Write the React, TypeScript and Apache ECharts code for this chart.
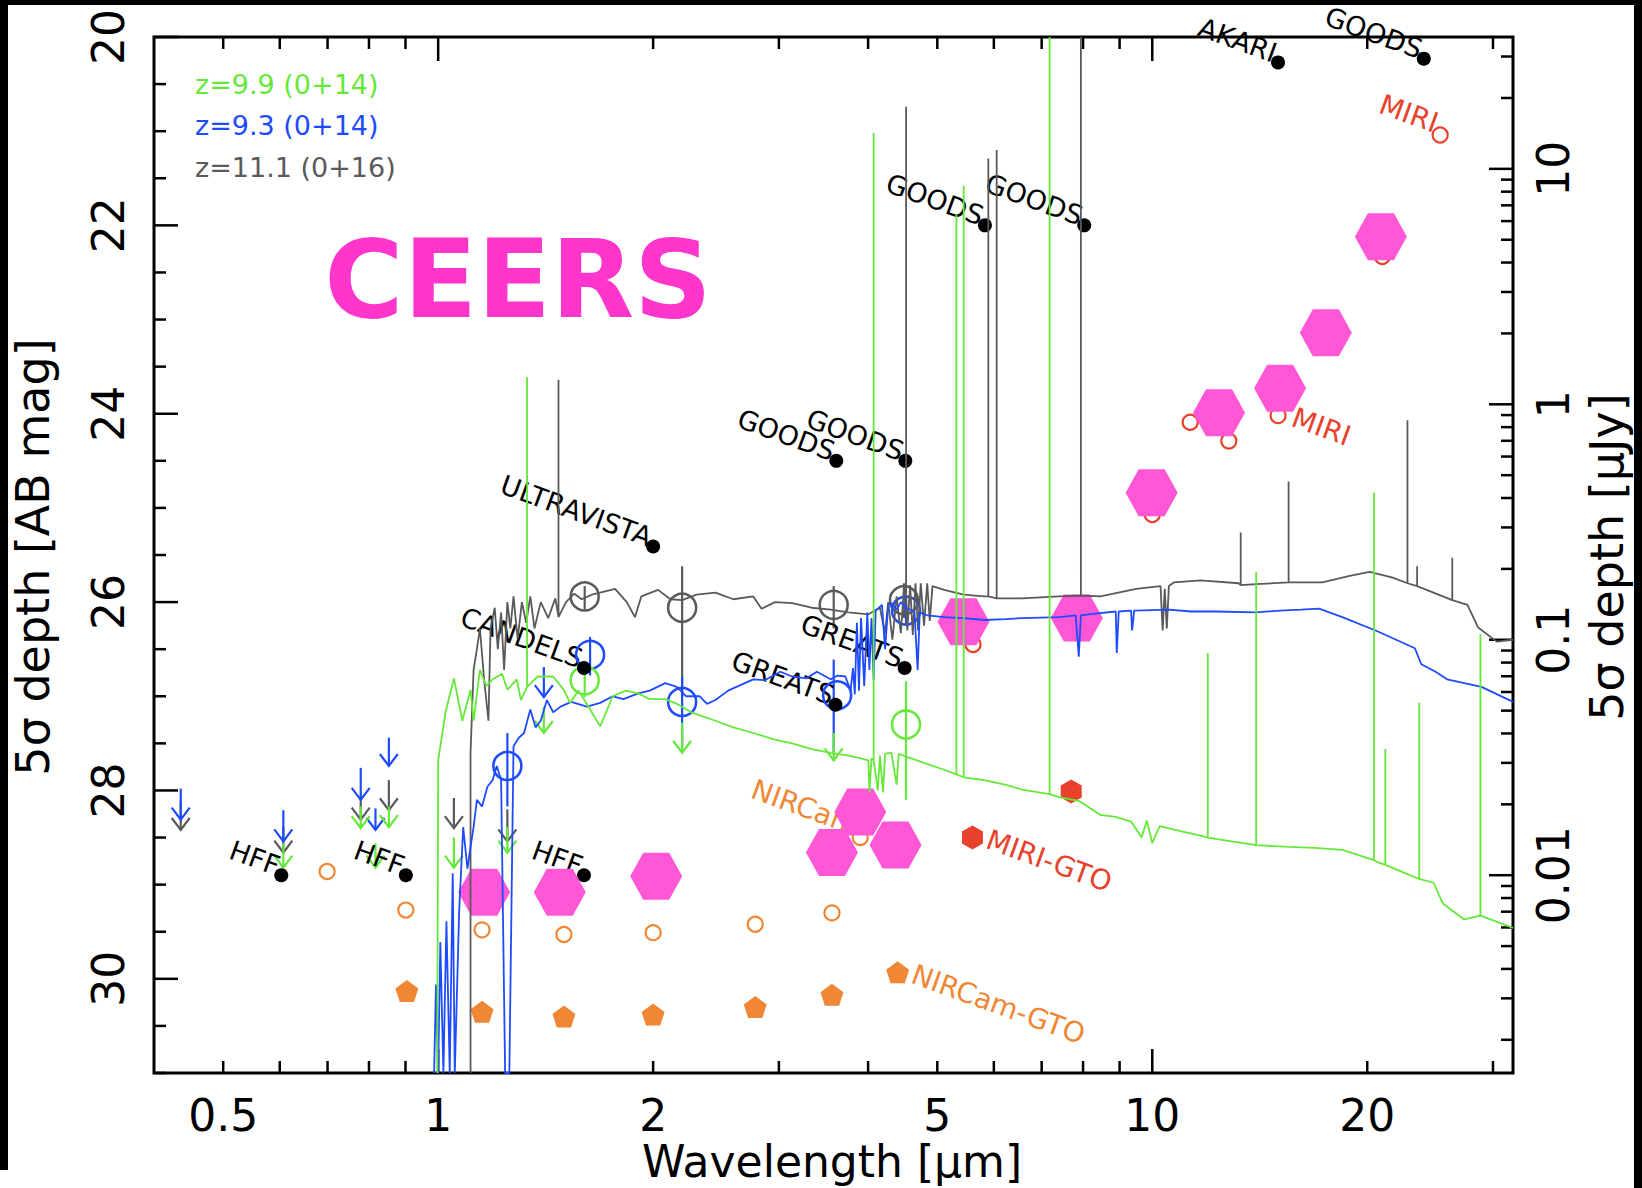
import React, { useEffect, useRef } from "react";
import * as echarts from "echarts";

const W = 1642;
const H = 1188;

const GREEN = "#66e83a";
const BLUE = "#1f4bff";
const GREY = "#5a5a5a";
const RED = "#e8412c";
const ORANGE = "#ef8734";
const PINK = "#ff57d5";
const FONT = '"DejaVu Sans", sans-serif';

// ---------------- model SEDs: [wavelength (μm), AB mag] ----------------
const sedZ111 = [
  [1.11, 31.0], [1.11, 27.6], [1.121, 26.72], [1.133, 26.5], [1.144, 26.28], [1.16, 26.83],
  [1.176, 27.26], [1.184, 26.28], [1.2, 26.06], [1.212, 26.5], [1.225, 26.11], [1.237, 26.72],
  [1.25, 26.0], [1.262, 26.28], [1.275, 25.94], [1.292, 26.39], [1.31, 26.0], [1.328, 26.22],
  [1.346, 25.94], [1.364, 26.28], [1.392, 26.0], [1.426, 26.17], [1.459, 25.96], [1.474, 26.16],
  [1.474, 23.64], [1.474, 26.16], [1.51, 26.0], [1.551, 25.91], [1.588, 25.97], [1.642, 25.92],
  [1.686, 25.9], [1.769, 25.86], [1.837, 26.0], [1.886, 26.16], [1.925, 25.94], [2.032, 25.87],
  [2.115, 25.97], [2.196, 25.98], [2.3, 25.92], [2.445, 25.9], [2.59, 25.97], [2.762, 25.94],
  [2.837, 26.07], [2.963, 26.0], [3.131, 26.01], [3.335, 26.06], [3.545, 26.08], [3.755, 26.11],
  [4.004, 26.13], [4.155, 26.06], [4.225, 26.33], [4.268, 26.0], [4.326, 26.4], [4.385, 25.94],
  [4.445, 26.33], [4.49, 25.86], [4.521, 25.91], [4.521, 20.74], [4.521, 25.91], [4.54, 26.3],
  [4.58, 25.82], [4.62, 26.35], [4.66, 25.8], [4.7, 26.3], [4.74, 25.8], [4.79, 26.25],
  [4.84, 25.8], [4.88, 26.2], [4.923, 25.83], [5.111, 25.87], [5.444, 25.92], [5.815, 25.94],
  [5.894, 25.94], [5.894, 21.29], [5.894, 25.94], [6.055, 25.96], [6.055, 21.2], [6.055, 25.96],
  [6.566, 25.96], [7.404, 25.94], [7.944, 25.93], [7.944, 20.0], [7.944, 25.93], [8.46, 25.94],
  [9.497, 25.86], [10.27, 25.83], [10.34, 26.3], [10.41, 25.86], [10.48, 26.28], [10.55, 25.83],
  [10.73, 25.79], [11.68, 25.77], [13.21, 25.8], [13.3, 25.82], [13.3, 25.26], [13.3, 25.82],
  [13.98, 25.81], [15.52, 25.79], [15.52, 24.72], [15.52, 25.79], [17.3, 25.79], [18.97, 25.72],
  [20.16, 25.68], [21.71, 25.74], [22.77, 25.8], [22.77, 24.07], [22.77, 25.8], [23.49, 25.83],
  [23.49, 25.62], [23.49, 25.83], [26.31, 25.98], [26.31, 25.53], [26.31, 25.98], [27.63, 26.03],
  [28.6, 26.27], [30.36, 26.42], [32.0, 26.4],
];

const sedZ93 = [
  [0.987, 31.0], [0.993, 30.06], [1.0, 31.0], [1.007, 29.61], [1.017, 31.0], [1.027, 29.39],
  [1.038, 31.0], [1.048, 28.88], [1.055, 31.0], [1.07, 29.28], [1.084, 28.39], [1.099, 28.83],
  [1.11, 28.6], [1.121, 28.39], [1.133, 28.1], [1.152, 28.17], [1.172, 27.96], [1.192, 27.89],
  [1.208, 27.74], [1.225, 27.89], [1.241, 31.0], [1.258, 31.0], [1.275, 27.53], [1.297, 27.44],
  [1.319, 27.39], [1.346, 27.14], [1.369, 27.33], [1.392, 27.26], [1.42, 27.04], [1.449, 27.17],
  [1.484, 27.11], [1.536, 27.06], [1.615, 27.11], [1.686, 27.07], [1.756, 27.0], [1.818, 27.03],
  [1.906, 26.97], [1.978, 26.94], [2.08, 26.86], [2.159, 26.9], [2.225, 27.0], [2.324, 27.0],
  [2.38, 27.08], [2.445, 27.04], [2.547, 26.94], [2.635, 26.89], [2.762, 26.82], [2.866, 26.83],
  [3.014, 26.74], [3.131, 26.79], [3.279, 26.81], [3.391, 26.74], [3.545, 26.82], [3.628, 26.78],
  [3.717, 26.79], [3.78, 26.94], [3.81, 26.7], [3.832, 26.98], [3.858, 26.22], [3.884, 26.94],
  [3.91, 26.17], [3.95, 26.89], [3.99, 26.11], [4.017, 26.72], [4.044, 26.17], [4.072, 26.83],
  [4.099, 26.09], [4.183, 26.03], [4.225, 26.5], [4.268, 26.03], [4.311, 26.01], [4.385, 26.08],
  [4.445, 26.0], [4.521, 26.06], [4.645, 26.1], [4.693, 26.72], [4.725, 26.11], [4.84, 26.14],
  [5.111, 26.16], [5.444, 26.17], [5.815, 26.19], [6.242, 26.18], [6.566, 26.17], [7.404, 26.16],
  [7.812, 26.14], [7.89, 26.58], [7.944, 26.14], [8.376, 26.12], [8.89, 26.1], [8.918, 26.54],
  [8.976, 26.1], [9.339, 26.09], [9.37, 26.3], [9.433, 26.09], [10.55, 26.08], [11.33, 26.1],
  [12.25, 26.1], [13.98, 26.11], [15.11, 26.09], [16.16, 26.08], [17.12, 26.07], [18.46, 26.16],
  [20.66, 26.31], [23.32, 26.49], [23.81, 26.66], [24.93, 26.74], [25.87, 26.82], [28.91, 26.9],
  [32.0, 27.06],
];

const sedZ99 = [
  [0.997, 31.0], [1.0, 27.68], [1.024, 27.17], [1.052, 26.81], [1.081, 27.26], [1.11, 26.93],
  [1.121, 27.26], [1.144, 26.72], [1.168, 26.89], [1.192, 26.82], [1.229, 26.76], [1.25, 26.93],
  [1.288, 26.82], [1.306, 27.04], [1.332, 26.9], [1.332, 23.61], [1.332, 26.9], [1.378, 26.79],
  [1.449, 26.79], [1.499, 26.93], [1.53, 27.07], [1.572, 26.94], [1.615, 27.08], [1.686, 27.32],
  [1.756, 27.0], [1.831, 26.94], [1.906, 26.97], [1.978, 27.03], [2.08, 27.03], [2.159, 27.08],
  [2.263, 27.17], [2.34, 27.21], [2.445, 27.26], [2.59, 27.33], [2.762, 27.39], [2.963, 27.46],
  [3.131, 27.5], [3.335, 27.56], [3.545, 27.6], [3.755, 27.63], [3.91, 27.66], [4.004, 27.68],
  [4.017, 28.02], [4.044, 27.66], [4.072, 27.68], [4.072, 21.02], [4.072, 27.68], [4.127, 28.0],
  [4.155, 27.63], [4.197, 28.02], [4.225, 27.61], [4.311, 27.6], [4.385, 27.94], [4.415, 27.61],
  [4.521, 27.64], [4.757, 27.7], [5.111, 27.78], [5.318, 27.83], [5.318, 21.88], [5.318, 27.83],
  [5.444, 27.86], [5.444, 21.58], [5.444, 27.86], [5.815, 27.89], [6.242, 27.94], [6.566, 27.99],
  [7.181, 28.04], [7.181, 20.0], [7.181, 28.04], [7.404, 28.07], [7.89, 28.11], [8.46, 28.26],
  [8.89, 28.28], [9.339, 28.33], [9.661, 28.5], [9.829, 28.32], [10.0, 28.56], [10.24, 28.38],
  [11.07, 28.44], [11.84, 28.49], [11.96, 28.5], [11.96, 26.54], [11.96, 28.5], [12.91, 28.54],
  [13.98, 28.58], [13.98, 25.68], [13.98, 28.58], [15.52, 28.6], [16.89, 28.61], [18.46, 28.63],
  [20.44, 28.74], [20.44, 24.84], [20.44, 28.74], [20.66, 28.76], [21.2, 28.79], [21.2, 27.56],
  [21.2, 28.79], [22.46, 28.87], [23.65, 28.94], [23.65, 27.07], [23.65, 28.94], [24.77, 28.98],
  [25.52, 29.2], [27.34, 29.37], [28.81, 29.33], [28.81, 26.34], [28.81, 29.33], [32.0, 29.46],
];

// ---------------- photometry: detections, error bars, upper limits ----------------
const photZ111 = [[1.604, 25.94], [2.196, 26.06], [3.58, 26.03], [4.49, 25.98]];
const errZ111 = [[1.604, 25.83, 26.08], [2.196, 25.62, 27.0], [3.58, 25.83, 26.28], [4.49, 25.8, 26.17]];
const photZ93 = [[1.25, 27.74], [1.632, 26.56], [2.196, 27.06], [3.62, 26.99], [4.52, 26.09]];
const errZ93 = [[1.25, 27.39, 28.17], [1.632, 26.37, 26.78], [2.196, 26.79, 27.53], [3.58, 26.61, 27.6], [4.52, 25.95, 26.25]];
const photZ99 = [[1.604, 26.83], [4.52, 27.3]];
const errZ99 = [[1.604, 26.69, 27.01], [4.52, 26.84, 28.1]];

// upper limits: [wavelength, mag at arrow tail, mag at arrow head]
const limZ93 = [[0.436, 27.98, 28.31], [0.607, 28.21, 28.54], [0.779, 27.76, 28.1], [0.817, 28.19, 28.42], [0.853, 27.44, 27.74], [1.406, 26.69, 27.01]];
const limZ111 = [[0.436, 28.11, 28.42], [0.607, 28.39, 28.66], [0.779, 28.06, 28.31], [0.853, 27.89, 28.21], [1.052, 28.08, 28.4], [1.25, 28.2, 28.54]];
const limZ99 = [[0.607, 28.56, 28.82], [0.779, 28.17, 28.4], [0.817, 28.56, 28.82], [0.853, 28.17, 28.39], [1.052, 28.5, 28.82], [1.25, 28.39, 28.66], [1.406, 27.11, 27.39], [2.196, 27.28, 27.6], [3.58, 27.39, 27.68]];

// ---------------- survey depths ----------------
const surveyNames = ["HFF", "HFF", "HFF", "CANDELS", "ULTRAVISTA", "GOODS", "GOODS", "GREATS", "GREATS", "GOODS", "GOODS", "AKARI", "GOODS"];
const surveyDepths = [[0.603, 28.9], [0.901, 28.9], [1.6, 28.9], [1.6, 26.7], [2.0, 25.41], [3.61, 24.5], [4.51, 24.5], [3.6, 27.09], [4.5, 26.7], [5.83, 22.0], [8.03, 22.0], [15.0, 20.27], [24.0, 20.23]];

const miriDepths = [[5.61, 26.45], [10.0, 25.07], [11.3, 24.09], [12.8, 24.29], [15.0, 24.02], [21.0, 22.33], [25.3, 21.04]];
const miriGtoDepths = [[5.6, 28.5], [7.7, 28.01]];
const nircamDepths = [[0.699, 28.86], [0.901, 29.27], [1.152, 29.48], [1.5, 29.53], [2.0, 29.51], [2.78, 29.42], [3.56, 29.3], [3.9, 28.5]];
const nircamGtoDepths = [[0.904, 30.13], [1.152, 30.35], [1.5, 30.4], [2.0, 30.38], [2.78, 30.3], [3.56, 30.17], [4.4, 29.93]];
const ceersDepths = [[1.16, 29.08], [1.48, 29.08], [2.02, 28.91], [3.56, 28.66], [3.9, 28.23], [4.37, 28.58], [5.44, 26.21], [7.84, 26.17], [9.98, 24.84], [12.4, 23.99], [15.1, 23.73], [17.5, 23.14], [20.9, 22.12]];

// coloured instrument labels, tied to one of the points above
const instrumentLabels = [
  { text: "MIRI", at: miriDepths[6], color: RED, side: "left" },
  { text: "MIRI", at: miriDepths[4], color: RED, side: "right" },
  { text: "MIRI-GTO", at: miriGtoDepths[0], color: RED, side: "right" },
  { text: "NIRCam-GTO", at: nircamGtoDepths[6], color: ORANGE, side: "right" },
  { text: "NIRCam", at: nircamDepths[7], color: ORANGE, side: "left" },
];

// ---------------- axis ticks ----------------
const xTickValues = [0.5, 0.6, 0.7, 0.8, 0.9, 1, 2, 3, 4, 5, 6, 7, 8, 9, 10, 20, 30];
const xMajorTicks = [1, 10];
const xTickLabels = [0.5, 1, 2, 5, 10, 20];
const magTicks = [20, 20.5, 21, 21.5, 22, 22.5, 23, 23.5, 24, 24.5, 25, 25.5, 26, 26.5, 27, 27.5, 28, 28.5, 29, 29.5, 30, 30.5, 31];
const magMajorTicks = [20, 22, 24, 26, 28, 30];
const fluxTicks = [
  0.002, 0.003, 0.004, 0.005, 0.006, 0.007, 0.008, 0.009,
  0.01, 0.02, 0.03, 0.04, 0.05, 0.06, 0.07, 0.08, 0.09,
  0.1, 0.2, 0.3, 0.4, 0.5, 0.6, 0.7, 0.8, 0.9,
  1, 2, 3, 4, 5, 6, 7, 8, 9, 10, 20, 30,
];
const fluxMajorTicks = [0.01, 0.1, 1, 10];

const abMag = (fluxMicroJy: number) => 23.9 - 2.5 * Math.log10(fluxMicroJy);

const TICK_LONG = 24;
const TICK_SHORT = 12;
const TICK_W = 2.5;
const LABEL_ROT = (-20 * Math.PI) / 180;

function txt(text: string, x: number, y: number, font: string, fill: string, align: string, va: string, rotation = 0) {
  return {
    type: "text",
    x,
    y,
    rotation,
    style: { text, font, fill, align, verticalAlign: va, textAlign: align, textVerticalAlign: va },
  };
}

function tickLine(x1: number, y1: number, x2: number, y2: number) {
  return { type: "line", shape: { x1, y1, x2, y2 }, style: { stroke: "#000", lineWidth: TICK_W } };
}

function renderXTick(params: any, api: any) {
  const v = xTickValues[params.dataIndex];
  const cs = params.coordSys;
  const x = api.coord([v, 25])[0];
  const len = xMajorTicks.includes(v) ? TICK_LONG : TICK_SHORT;
  const bottom = cs.y + cs.height;
  const kids: any[] = [tickLine(x, bottom, x, bottom - len), tickLine(x, cs.y, x, cs.y + len)];
  if (xTickLabels.includes(v)) kids.push(txt(String(v), x, bottom + 42, `44px ${FONT}`, "#000", "center", "middle"));
  return { type: "group", children: kids };
}

function renderMagTick(params: any, api: any) {
  const m = magTicks[params.dataIndex];
  const cs = params.coordSys;
  const y = api.coord([1, m])[1];
  const len = magMajorTicks.includes(m) ? TICK_LONG : TICK_SHORT;
  const kids: any[] = [tickLine(cs.x, y, cs.x + len, y)];
  if (magMajorTicks.includes(m)) kids.push(txt(String(m), cs.x - 46, y, `44px ${FONT}`, "#000", "center", "middle", Math.PI / 2));
  return { type: "group", children: kids };
}

function renderFluxTick(params: any, api: any) {
  const f = fluxTicks[params.dataIndex];
  const cs = params.coordSys;
  const y = api.coord([1, abMag(f)])[1];
  const right = cs.x + cs.width;
  const major = fluxMajorTicks.includes(f);
  const kids: any[] = [tickLine(right, y, right - (major ? TICK_LONG : TICK_SHORT), y)];
  if (major) kids.push(txt(String(f), right + 40, y, `44px ${FONT}`, "#000", "center", "middle", Math.PI / 2));
  return { type: "group", children: kids };
}

function errRenderer(color: string) {
  return (params: any, api: any) => {
    const a = api.coord([api.value(0), api.value(1)]);
    const b = api.coord([api.value(0), api.value(2)]);
    return { type: "line", shape: { x1: a[0], y1: a[1], x2: b[0], y2: b[1] }, style: { stroke: color, lineWidth: 2.2 } };
  };
}

function arrowRenderer(color: string) {
  return (params: any, api: any) => {
    const a = api.coord([api.value(0), api.value(1)]);
    const b = api.coord([api.value(0), api.value(2)]);
    return {
      type: "group",
      children: [
        { type: "line", shape: { x1: a[0], y1: a[1], x2: b[0], y2: b[1] }, style: { stroke: color, lineWidth: 2.2 } },
        {
          type: "polyline",
          shape: { points: [[b[0] - 9, b[1] - 12], [b[0], b[1]], [b[0] + 9, b[1] - 12]] },
          style: { stroke: color, lineWidth: 2.2, fill: null },
        },
      ],
    };
  };
}

function renderSurveyLabel(params: any, api: any) {
  const p = api.coord([api.value(0), api.value(1)]);
  return txt(surveyNames[params.dataIndex], p[0] - 7, p[1] + 4, `27px ${FONT}`, "#000", "right", "bottom", LABEL_ROT);
}

function renderInstrumentLabel(params: any, api: any) {
  const L = instrumentLabels[params.dataIndex];
  const p = api.coord([api.value(0), api.value(1)]);
  if (L.side === "right") return txt(L.text, p[0] + 15, p[1] + 1, `28px ${FONT}`, L.color, "left", "middle", LABEL_ROT);
  return txt(L.text, p[0] - 8, p[1] + 2, `28px ${FONT}`, L.color, "right", "bottom", LABEL_ROT);
}

const HEX_FLAT = "path://M-1,0 L-0.5,-0.866 L0.5,-0.866 L1,0 L0.5,0.866 L-0.5,0.866 Z";
const HEX_POINTY = "path://M0,-1 L0.866,-0.5 L0.866,0.5 L0,1 L-0.866,0.5 L-0.866,-0.5 Z";
const PENTAGON = "path://M0,-1 L0.951,-0.309 L0.588,0.809 L-0.588,0.809 L-0.951,-0.309 Z";

function custom(data: any[], renderItem: any, extra: any = {}) {
  return { type: "custom", data, renderItem, silent: true, encode: { x: 0, y: 1 }, ...extra };
}

function sedLine(data: any[], color: string) {
  return {
    type: "line",
    data,
    symbol: "none",
    silent: true,
    clip: true,
    lineStyle: { color, width: 1.8, opacity: 1 },
  };
}

function openCircles(data: any[], color: string, size: number, width: number) {
  return {
    type: "scatter",
    data,
    symbol: "circle",
    symbolSize: size,
    silent: true,
    itemStyle: { color: "rgba(0,0,0,0)", borderColor: color, borderWidth: width, opacity: 1 },
  };
}

function filled(data: any[], symbol: string, size: any, color: string) {
  return { type: "scatter", data, symbol, symbolSize: size, silent: true, itemStyle: { color, opacity: 1 } };
}

function buildOption() {
  return {
    animation: false,
    backgroundColor: "#fff",
    grid: { left: 154, top: 37, right: 129, bottom: 115, show: true, borderColor: "#000", borderWidth: 3, backgroundColor: "transparent" },
    xAxis: {
      type: "log",
      logBase: 10,
      min: 0.4,
      max: 32,
      axisLine: { show: false },
      axisTick: { show: false },
      axisLabel: { show: false },
      splitLine: { show: false },
    },
    yAxis: {
      type: "value",
      inverse: true,
      min: 20,
      max: 31,
      axisLine: { show: false },
      axisTick: { show: false },
      axisLabel: { show: false },
      splitLine: { show: false },
    },
    graphic: [
      { type: "rect", shape: { x: 0, y: 0, width: 8, height: 1170 }, style: { fill: "#000" }, z: 100 },
      { type: "rect", shape: { x: 0, y: 0, width: W, height: 5 }, style: { fill: "#000" }, z: 100 },
      { type: "rect", shape: { x: 1634, y: 0, width: 8, height: H }, style: { fill: "#000" }, z: 100 },
      { ...txt("z=9.9 (0+14)", 195, 84, `27px ${FONT}`, GREEN, "left", "middle"), z: 100 },
      { ...txt("z=9.3 (0+14)", 195, 125, `27px ${FONT}`, BLUE, "left", "middle"), z: 100 },
      { ...txt("z=11.1 (0+16)", 195, 167, `27px ${FONT}`, GREY, "left", "middle"), z: 100 },
      { ...txt("CEERS", 518, 279, `bold 108px ${FONT}`, "#ff35cc", "center", "middle"), z: 100 },
      { ...txt("5σ depth [AB mag]", 33, 557, `46px ${FONT}`, "#000", "center", "middle", Math.PI / 2), z: 100 },
      { ...txt("5σ depth [μJy]", 1607, 557, `46px ${FONT}`, "#000", "center", "middle", Math.PI / 2), z: 100 },
      { ...txt("Wavelength [μm]", 832, 1161, `44px ${FONT}`, "#000", "center", "middle"), z: 100 },
    ],
    series: [
      sedLine(sedZ111, GREY),
      sedLine(sedZ93, BLUE),
      sedLine(sedZ99, GREEN),
      custom(errZ111, errRenderer(GREY)),
      custom(errZ93, errRenderer(BLUE)),
      custom(errZ99, errRenderer(GREEN)),
      custom(limZ111, arrowRenderer(GREY)),
      custom(limZ93, arrowRenderer(BLUE)),
      custom(limZ99, arrowRenderer(GREEN)),
      openCircles(photZ111, GREY, 28, 2.5),
      openCircles(photZ93, BLUE, 28, 2.5),
      openCircles(photZ99, GREEN, 28, 2.5),
      openCircles(miriDepths, RED, 15, 2.2),
      openCircles(nircamDepths, ORANGE, 15, 2.2),
      filled(nircamGtoDepths, PENTAGON, [23, 22], ORANGE),
      filled(miriGtoDepths, HEX_POINTY, [21, 24], RED),
      filled(surveyDepths, "circle", 14, "#000"),
      custom(surveyDepths, renderSurveyLabel),
      custom(instrumentLabels.map((l) => l.at), renderInstrumentLabel),
      filled(ceersDepths, HEX_FLAT, [52, 47], PINK),
      custom(xTickValues.map((v) => [v, 31]), renderXTick),
      custom(magTicks.map((m) => [0.4, m]), renderMagTick),
      custom(fluxTicks.map((f) => [32, abMag(f)]), renderFluxTick),
    ],
  };
}

export default function App() {
  const ref = useRef<HTMLDivElement>(null);
  useEffect(() => {
    document.body.style.margin = "0";
    const chart = echarts.init(ref.current as HTMLDivElement, undefined, { renderer: "svg" });
    chart.setOption(buildOption() as any);
    return () => chart.dispose();
  }, []);
  return <div ref={ref} style={{ width: W, height: H }} />;
}
